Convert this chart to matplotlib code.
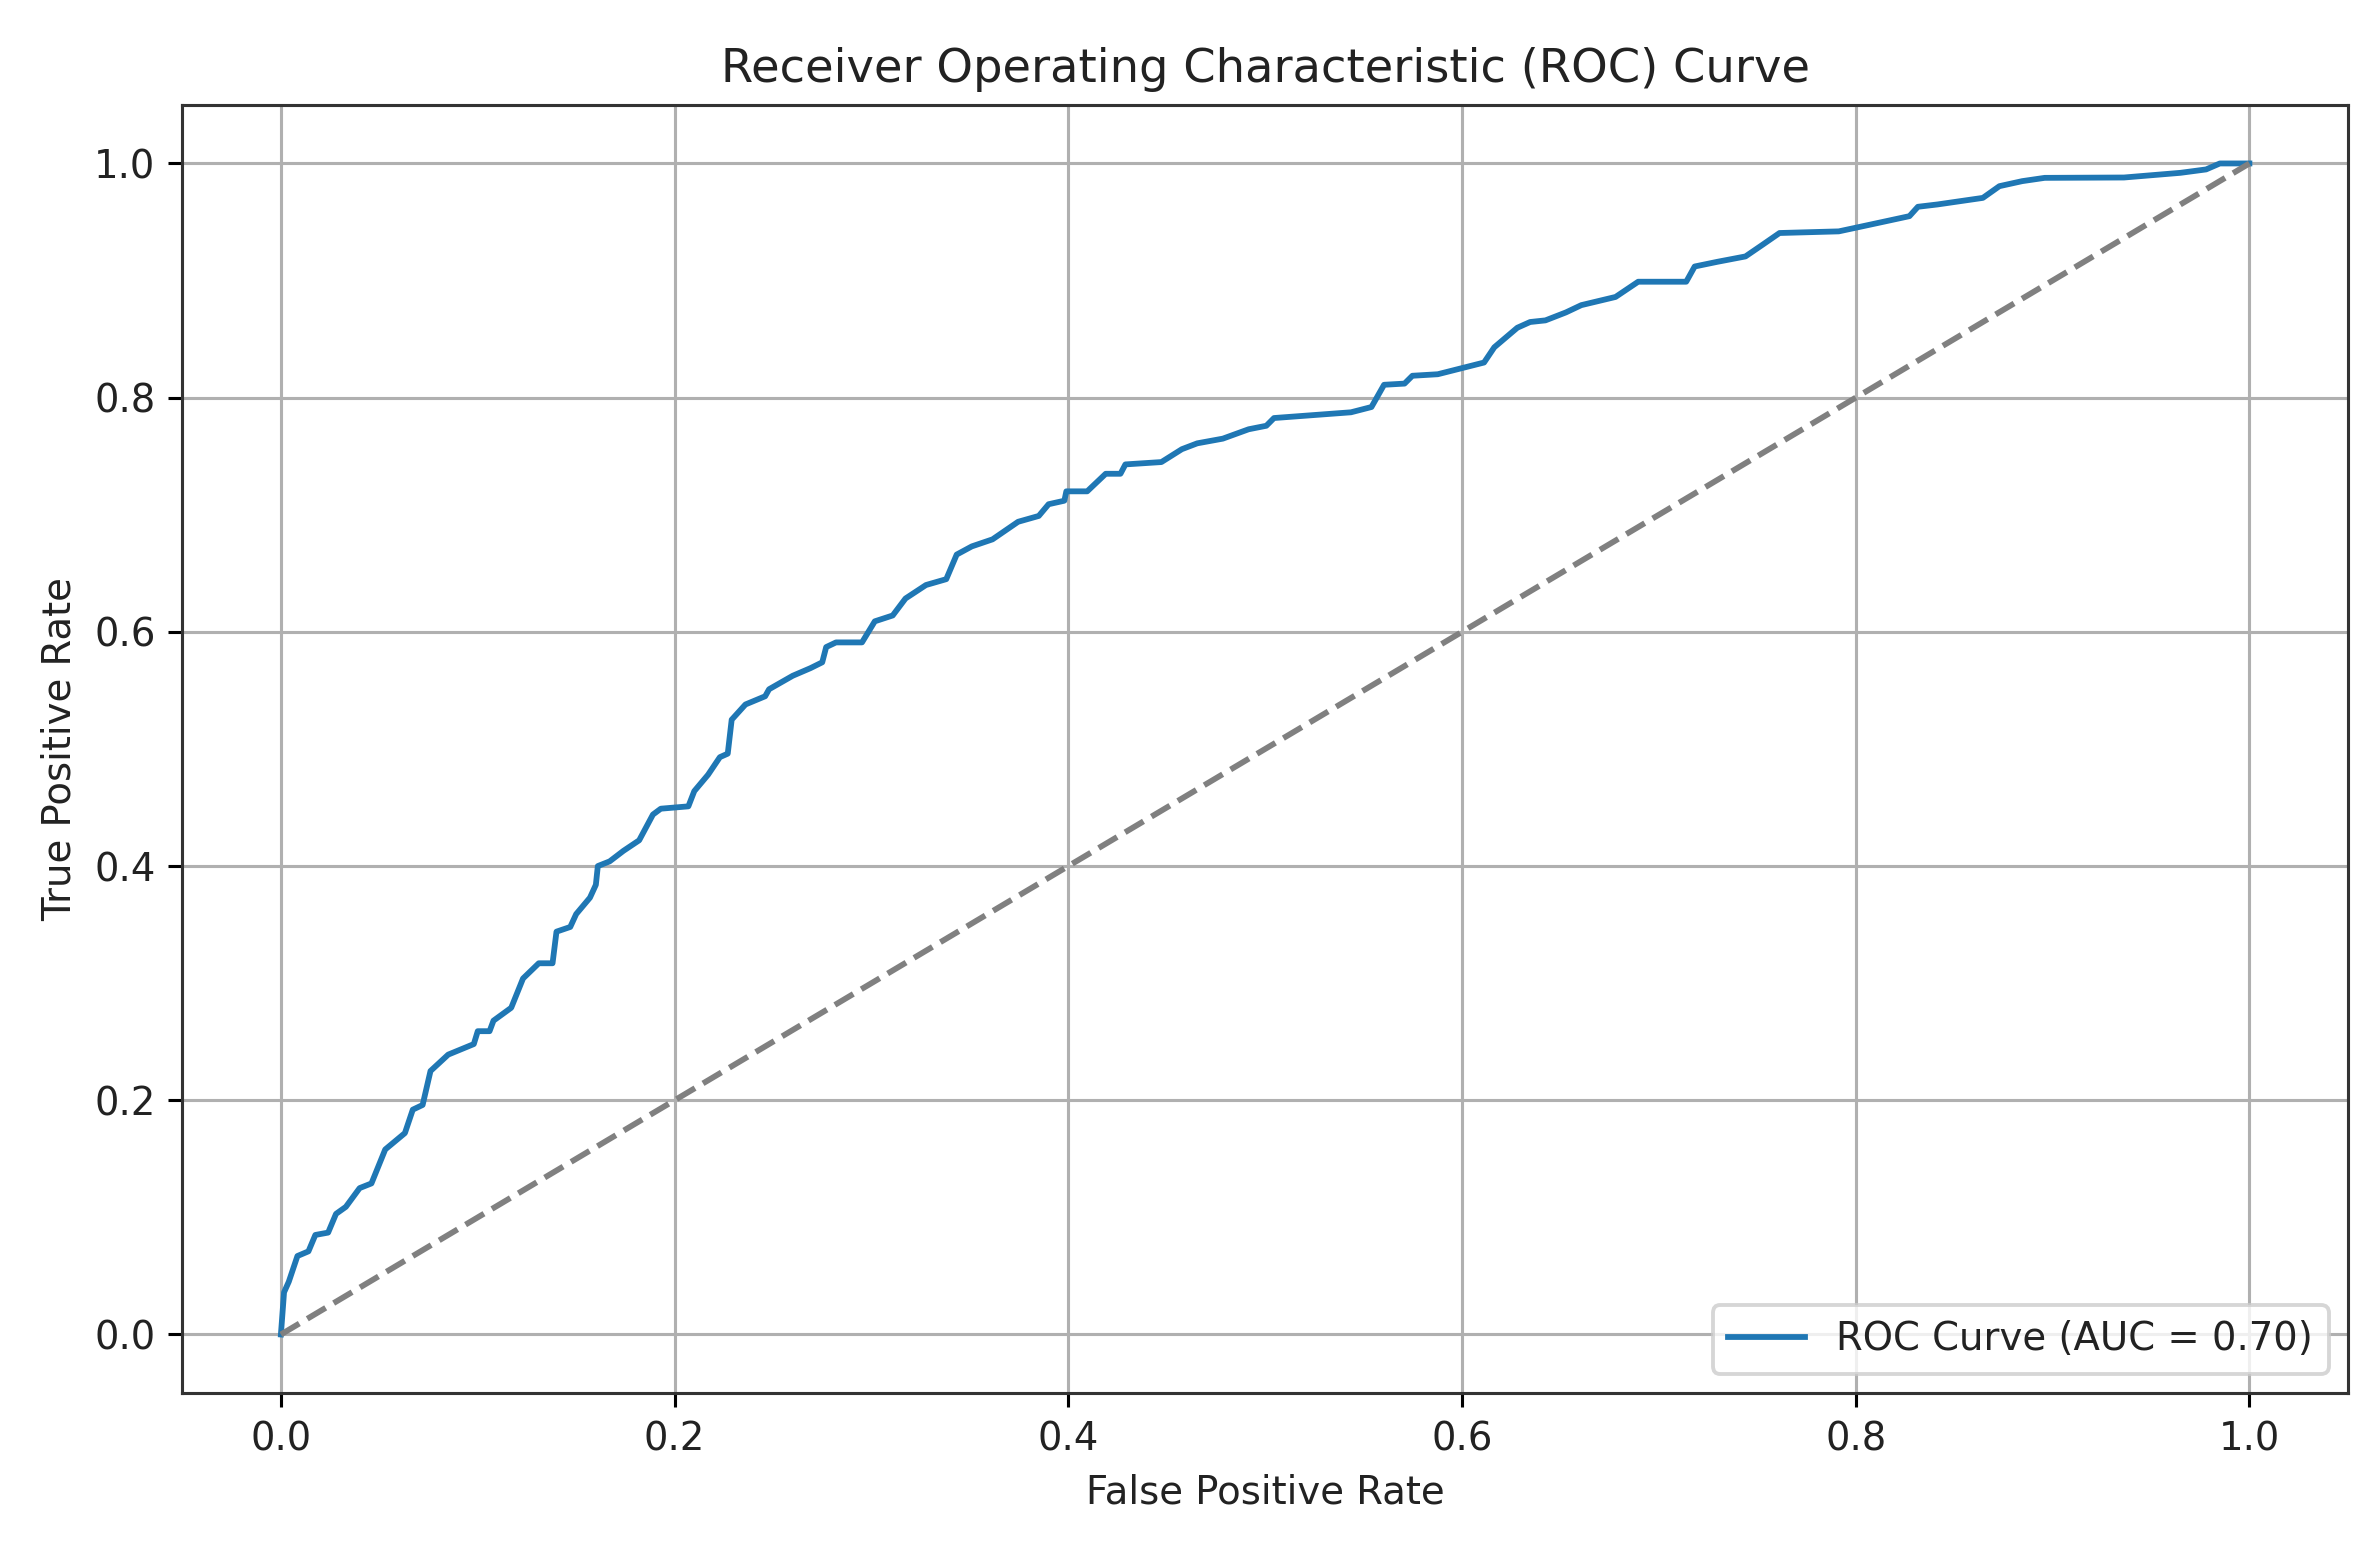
import matplotlib
matplotlib.use("Agg")
import matplotlib.pyplot as plt

fpr = [0.0, 0.0016, 0.004, 0.0084, 0.014, 0.0175, 0.024, 0.028, 0.033, 0.040,
       0.046, 0.053, 0.063, 0.067, 0.072, 0.076, 0.085, 0.098, 0.100, 0.106,
       0.108, 0.117, 0.123, 0.131, 0.138, 0.140, 0.147, 0.150, 0.157, 0.160,
       0.161, 0.167, 0.174, 0.182, 0.189, 0.193, 0.207, 0.210, 0.217, 0.223,
       0.227, 0.229, 0.236, 0.246, 0.248, 0.260, 0.269, 0.275, 0.277, 0.282,
       0.2952, 0.3017, 0.3108, 0.3173, 0.3277, 0.338, 0.3433, 0.351, 0.3615,
       0.3745, 0.385, 0.390, 0.398, 0.399, 0.4096, 0.419, 0.4265, 0.429,
       0.4473, 0.4577, 0.4655, 0.4785, 0.4916, 0.5006, 0.5045, 0.5436, 0.554,
       0.5604, 0.5708, 0.5748, 0.5877, 0.6112, 0.6164, 0.6281, 0.6346, 0.6424,
       0.6528, 0.6606, 0.678, 0.6895, 0.7139, 0.7182, 0.7297, 0.744, 0.7527,
       0.7613, 0.7914, 0.8072, 0.8273, 0.8316, 0.8416, 0.8646, 0.873, 0.8846,
       0.896, 0.9363, 0.965, 0.978, 0.985, 1.0]
tpr = [0.0, 0.036, 0.045, 0.067, 0.071, 0.085, 0.087, 0.103, 0.109, 0.125,
       0.129, 0.158, 0.172, 0.192, 0.196, 0.225, 0.239, 0.248, 0.259, 0.259,
       0.268, 0.279, 0.304, 0.317, 0.317, 0.344, 0.348, 0.359, 0.373, 0.384,
       0.400, 0.404, 0.413, 0.422, 0.444, 0.449, 0.451, 0.464, 0.478, 0.493,
       0.496, 0.525, 0.538, 0.545, 0.551, 0.5625, 0.569, 0.574, 0.587, 0.591,
       0.591, 0.609, 0.614, 0.6285, 0.640, 0.645, 0.666, 0.673, 0.679,
       0.694, 0.699, 0.709, 0.712, 0.720, 0.720, 0.735, 0.735, 0.743,
       0.745, 0.756, 0.761, 0.765, 0.773, 0.776, 0.7826, 0.7875, 0.792,
       0.811, 0.812, 0.8187, 0.820, 0.830, 0.843, 0.8597, 0.8646, 0.866,
       0.8728, 0.879, 0.886, 0.899, 0.899, 0.912, 0.916, 0.9206, 0.9306,
       0.9406, 0.942, 0.9477, 0.955, 0.963, 0.965, 0.9706, 0.9806, 0.9849,
       0.9877, 0.988, 0.992, 0.9949, 1.0, 1.0]
diag = [0.0, 1.0]
auc_label = "ROC Curve (AUC = 0.70)"

DPI = 278
plt.rcParams['text.color'] = '#222222'
plt.rcParams['axes.labelcolor'] = '#222222'
plt.rcParams['xtick.labelcolor'] = '#222222'
plt.rcParams['ytick.labelcolor'] = '#222222'
plt.rcParams['axes.edgecolor'] = '#333333'

fig = plt.figure(figsize=(2379 / DPI, 1561 / DPI), dpi=DPI)
ax = fig.add_axes([0.0767, 0.1076, 0.9102, 0.8252])
ax.plot(fpr, tpr, color="#1f77b4", lw=1.5, label=auc_label)
ax.plot(diag, diag, color="gray", linestyle="--")
ax.set_xlabel("False Positive Rate")
ax.set_ylabel("True Positive Rate")
ax.set_title("Receiver Operating Characteristic (ROC) Curve")
ax.legend(loc="lower right")
ax.grid(True)
fig.savefig("out.png", dpi=DPI)
